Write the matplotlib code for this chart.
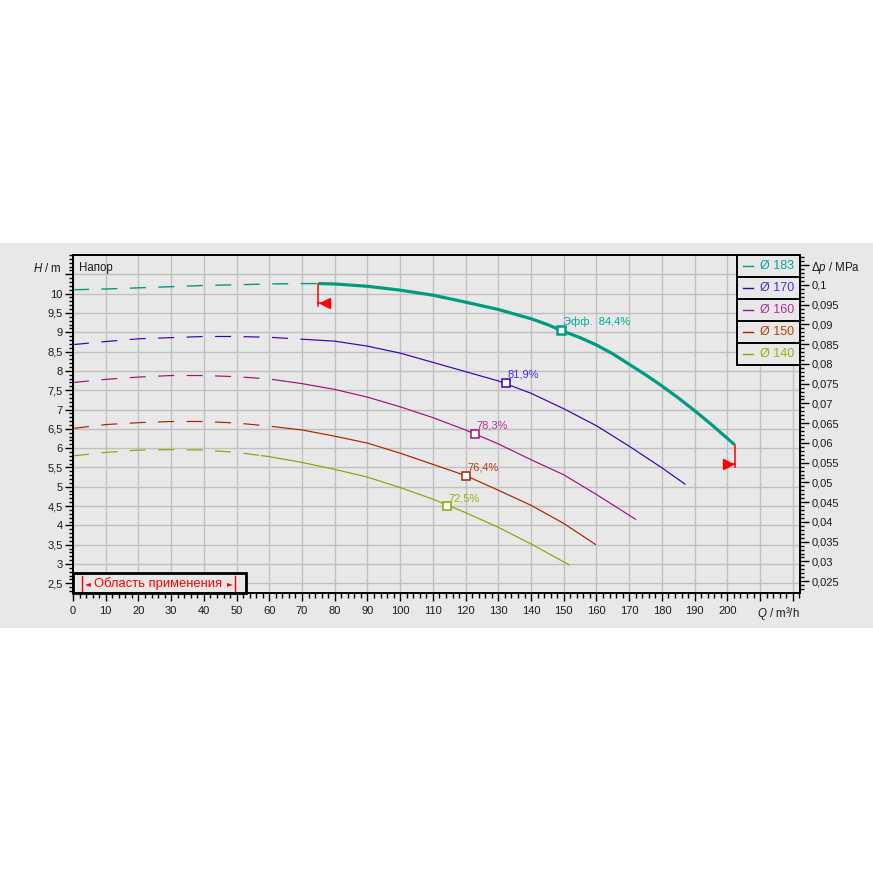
import numpy as np
import matplotlib
matplotlib.use('Agg')
import matplotlib.pyplot as plt
from matplotlib.patches import Rectangle
from matplotlib.lines import Line2D
from matplotlib.ticker import MultipleLocator, FixedLocator, FuncFormatter

plt.rcParams['font.family'] = ['Liberation Sans', 'DejaVu Sans']
plt.rcParams['mathtext.fontset'] = 'custom'
plt.rcParams['mathtext.rm'] = 'Liberation Sans'
plt.rcParams['mathtext.it'] = 'Liberation Sans:italic'
plt.rcParams['lines.scale_dashes'] = False

# ---------------- data ----------------
diameters = ['183', '170', '160', '150', '140']
line_colors = ['#009B80', '#3A00B0', '#A0107E', '#A82400', '#8FA300']
text_colors = ['#00A898', '#4A30D0', '#B0309A', '#B84010', '#9AAE10']

q_183 = [0, 10, 20, 30, 40, 50, 60, 70, 75, 80, 90, 100, 110, 120, 130, 140, 145, 150, 155, 160, 165,
         170, 175, 180, 185, 190, 195, 202.2]
h_183 = [10.10, 10.12, 10.15, 10.18, 10.21, 10.23, 10.25, 10.26, 10.26, 10.25, 10.19, 10.09, 9.96, 9.78,
         9.59, 9.35, 9.20, 9.02, 8.86, 8.67, 8.44, 8.17, 7.90, 7.61, 7.30, 6.97, 6.62, 6.09]
q_170 = [0, 10, 20, 30, 40, 50, 60, 70, 80, 90, 100, 110, 120, 130, 140, 150, 160, 170, 180, 187.2]
h_170 = [8.68, 8.76, 8.83, 8.86, 8.89, 8.89, 8.87, 8.82, 8.77, 8.64, 8.46, 8.22, 7.98, 7.74, 7.42, 7.02,
         6.58, 6.05, 5.49, 5.06]
q_160 = [0, 10, 20, 30, 40, 50, 60, 70, 80, 90, 100, 110, 120, 130, 140, 150, 160, 172.1]
h_160 = [7.70, 7.78, 7.84, 7.88, 7.88, 7.85, 7.79, 7.67, 7.52, 7.32, 7.07, 6.79, 6.47, 6.11, 5.70, 5.31,
         4.80, 4.15]
q_150 = [0, 10, 20, 30, 40, 50, 60, 70, 80, 90, 100, 110, 120, 130, 140, 150, 159.8]
h_150 = [6.51, 6.61, 6.66, 6.69, 6.69, 6.65, 6.57, 6.47, 6.31, 6.13, 5.87, 5.58, 5.29, 4.91, 4.52, 4.05, 3.50]
q_140 = [0, 10, 20, 30, 40, 50, 60, 70, 80, 90, 100, 110, 120, 130, 140, 151.8]
h_140 = [5.80, 5.89, 5.95, 5.96, 5.95, 5.89, 5.78, 5.63, 5.45, 5.25, 4.98, 4.68, 4.33, 3.95, 3.52, 2.97]

curves_q = [q_183, q_170, q_160, q_150, q_140]
curves_h = [h_183, h_170, h_160, h_150, h_140]

# end of the dashed (outside recommended range) part per curve
dash_end = [75.0, 69.7, 65.6, 61.5, 57.4]

# best efficiency points
bep_q = [149.2, 132.4, 122.9, 120.1, 114.3]
bep_h = [9.05, 7.69, 6.37, 5.29, 4.49]
bep_labels = ['Эфф.  84,4%', '81,9%', '78,3%', '76,4%', '72,5%']

# application range on the main curve
range_q_min = 75.0
range_q_max = 202.2

x_ticks = list(range(0, 230, 10))
x_labels = [str(v) if v <= 200 else '' for v in x_ticks]
h_ticks = [2.5 + 0.5 * i for i in range(17)]           # 2.5 ... 10.5
dp_ticks = [0.025 + 0.005 * i for i in range(17)]      # 0.025 ... 0.105
mpa_per_m = 0.00978

# ---------------- figure ----------------
W = H = 873
fig = plt.figure(figsize=(W / 100, H / 100), dpi=100)
fig.patch.set_facecolor('white')
fig.add_artist(Rectangle((0, 1 - 628 / H), 1, (628 - 243) / H, transform=fig.transFigure,
                         facecolor='#e8e8e8', edgecolor='none', zorder=0))

ax = fig.add_axes([73 / W, 1 - 593 / H, 727 / W, 338 / H])
ax.set_facecolor('#e8e8e8')
ax.set_xlim(0, 222.2)
ax.set_ylim(2.25, 11.0)

ax.xaxis.set_major_locator(FixedLocator(x_ticks))
ax.set_xticklabels(x_labels)
ax.xaxis.set_minor_locator(MultipleLocator(2))
ax.yaxis.set_major_locator(FixedLocator(h_ticks))
ax.yaxis.set_minor_locator(MultipleLocator(0.1))


def h_fmt(v, pos):
    if v > 10.25:
        return ''
    s = ('%.1f' % v).rstrip('0').rstrip('.')
    return s.replace('.', ',')


ax.yaxis.set_major_formatter(FuncFormatter(h_fmt))
ax.grid(True, which='major', color='#c0c0c0', lw=1.0, zorder=1)
ax.set_axisbelow(True)

for s in ax.spines.values():
    s.set_color('black')
    s.set_linewidth(1.3)

ax.tick_params(axis='x', which='major', direction='out', length=6, width=1, pad=3,
               labelsize=8, colors='black', labelcolor='#1a1a1a')
ax.tick_params(axis='x', which='minor', direction='out', length=3.5, width=1)
ax.tick_params(axis='y', which='major', direction='out', length=5.5, width=1, pad=2,
               labelsize=8, labelcolor='#1a1a1a')
ax.tick_params(axis='y', which='minor', direction='out', length=3, width=1)

# right axis (pressure)
ax2 = ax.twinx()
ax2.set_ylim(2.25 * mpa_per_m, 11.0 * mpa_per_m)
ax2.yaxis.set_major_locator(FixedLocator(dp_ticks))
ax2.yaxis.set_minor_locator(MultipleLocator(0.001))


def dp_fmt(v, pos):
    if v > 0.1025:
        return ''
    s = ('%.3f' % v).rstrip('0').rstrip('.')
    return s.replace('.', ',')


ax2.yaxis.set_major_formatter(FuncFormatter(dp_fmt))
ax2.tick_params(axis='y', which='major', direction='out', length=6.5, width=1, pad=2,
                labelsize=8, labelcolor='#1a1a1a')
ax2.tick_params(axis='y', which='minor', direction='out', length=3, width=1)
for s in ax2.spines.values():
    s.set_color('black')
    s.set_linewidth(1.3)
ax2.patch.set_visible(False)

# ---------------- curves ----------------
for i in range(len(diameters)):
    q = np.array(curves_q[i], dtype=float)
    h = np.array(curves_h[i], dtype=float)
    de = dash_end[i]
    hde = np.interp(de, q, h)
    qd = np.concatenate([q[q < de], [de]])
    hd = np.concatenate([h[q < de], [hde]])
    qs = np.concatenate([[de], q[q > de]])
    hs = np.concatenate([[hde], h[q > de]])
    main = (i == 0)
    ax.plot(qd, hd, color=line_colors[i], lw=1.0 if main else 0.85,
            dashes=(11.5, 9), zorder=3)
    ax.plot(qs, hs, color=line_colors[i], lw=2.3 if main else 0.85, zorder=3,
            solid_capstyle='butt', solid_joinstyle='round')
    ax.plot([bep_q[i]], [bep_h[i]], marker='s', ms=6.2 if main else 5.6,
            mfc='white', mec=line_colors[i], mew=1.8 if main else 1.1, zorder=5)
    ax.annotate(bep_labels[i], (bep_q[i], bep_h[i]), xytext=(1, 3.5),
                textcoords='offset points', fontsize=8, color=text_colors[i],
                ha='left', va='baseline', zorder=6)

# application range markers on the main curve
h_min = np.interp(range_q_min, q_183, h_183)
h_max = np.interp(range_q_max, q_183, h_183)
ax.plot([range_q_min, range_q_min], [h_min, h_min - 0.58], color='red', lw=1.1, zorder=6)
ax.plot([range_q_min, range_q_min + 2.9], [h_min - 0.49, h_min - 0.49], color='red', lw=1.1, zorder=6)
ax.plot([range_q_min + 2.0], [h_min - 0.49], marker='<', ms=6.5, color='red', mec='red', zorder=6)
ax.plot([range_q_max, range_q_max], [h_max, h_max - 0.58], color='red', lw=1.1, zorder=6)
ax.plot([range_q_max - 2.9, range_q_max], [h_max - 0.49, h_max - 0.49], color='red', lw=1.1, zorder=6)
ax.plot([range_q_max - 2.0], [h_max - 0.49], marker='>', ms=6.5, color='red', mec='red', zorder=6)

# ---------------- legend table ----------------
lx0 = (737.3 - 73) / 727
row_h = 22 / 338
n = len(diameters)
ax.add_patch(Rectangle((lx0, 1 - n * row_h), 1 - lx0, n * row_h, transform=ax.transAxes,
                       facecolor='#e8e8e8', edgecolor='black', lw=1.4, zorder=7, clip_on=False))
for i in range(n):
    yc = 1 - (i + 0.5) * row_h
    if i > 0:
        ax.add_line(Line2D([lx0, 1], [1 - i * row_h] * 2, transform=ax.transAxes,
                           color='black', lw=1.4, zorder=8))
    ax.add_line(Line2D([(743 - 73) / 727, (753 - 73) / 727], [yc, yc], transform=ax.transAxes,
                       color=line_colors[i], lw=1.0, zorder=8))
    ax.text((759.5 - 73) / 727, yc, 'Ø ' + diameters[i], transform=ax.transAxes,
            fontsize=9, color=text_colors[i], ha='left', va='center', zorder=8)

# ---------------- application range box ----------------
bx1 = (245.7 - 73) / 727
by1 = (593 - 572.7) / 338
ax.add_patch(Rectangle((0, 0), bx1, by1, transform=ax.transAxes, facecolor='#e8e8e8',
                       edgecolor='black', lw=2.0, zorder=7, clip_on=False))
byc = (593 - 583.5) / 338
ax.add_line(Line2D([(82.3 - 73) / 727] * 2, [(593 - 591.5) / 338, (593 - 576) / 338],
                   transform=ax.transAxes, color='red', lw=1.0, zorder=8))
ax.add_line(Line2D([(235 - 73) / 727] * 2, [(593 - 591.5) / 338, (593 - 576) / 338],
                   transform=ax.transAxes, color='red', lw=1.0, zorder=8))
ax.text((87.5 - 73) / 727, byc, '◄', transform=ax.transAxes, fontsize=5.5, color='red',
        ha='center', va='center', family=['DejaVu Sans'], zorder=8)
ax.text((230 - 73) / 727, byc, '►', transform=ax.transAxes, fontsize=5.5, color='red',
        ha='center', va='center', family=['DejaVu Sans'], zorder=8)
ax.text((94.5 - 73) / 727, byc, 'Область применения', transform=ax.transAxes, fontsize=9.4,
        color='red', ha='left', va='center', zorder=8)

# ---------------- axis titles ----------------
fig.text(62 / W, 1 - 268.3 / H, r'$H$ / m', fontsize=8.3, ha='right', va='center', color='#1a1a1a')
fig.text(79.5 / W, 1 - 268.3 / H, 'Напор', fontsize=8.3, ha='left', va='center', color='#1a1a1a')
fig.text(811 / W, 1 - 268.3 / H, r'$\Delta p$ / MPa', fontsize=8.3, ha='left', va='center', color='#1a1a1a')
fig.text(800 / W, 1 - 613.3 / H, r'$Q$ / m³/h', fontsize=8.3, ha='right', va='center', color='#1a1a1a')

fig.savefig('out.png', dpi=100, facecolor='white')
